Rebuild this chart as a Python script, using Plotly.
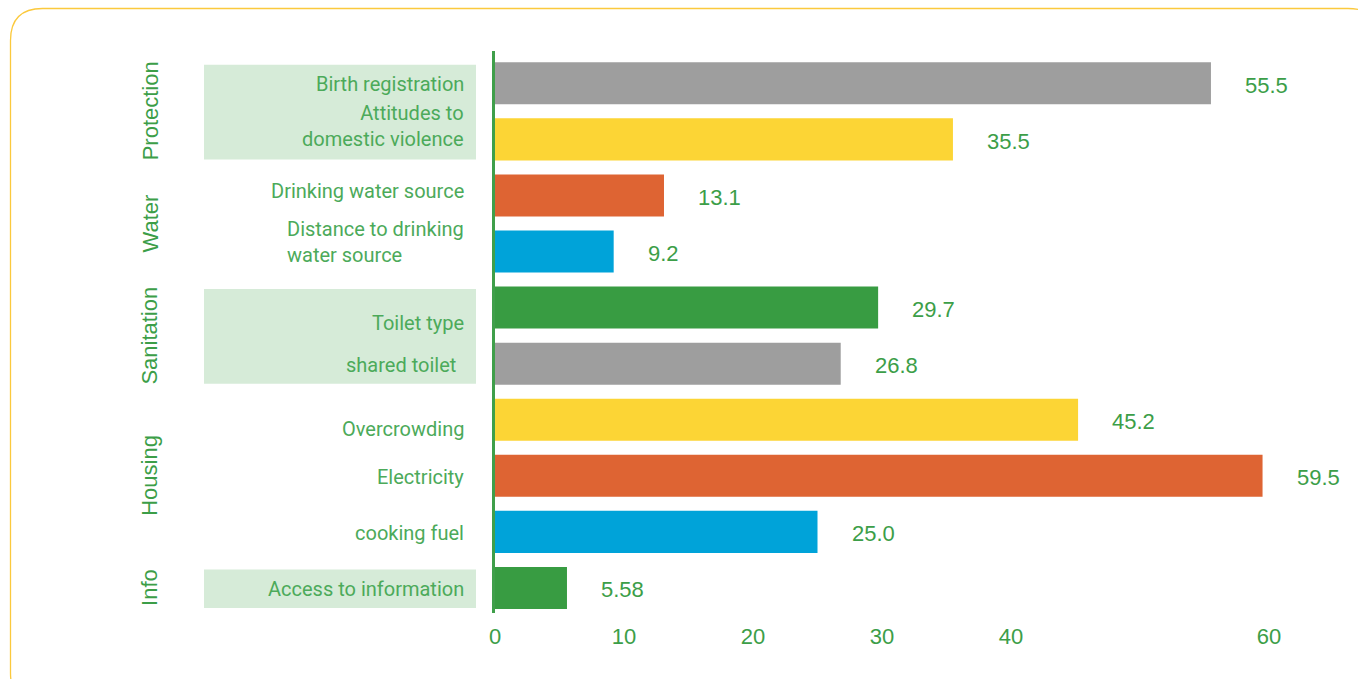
import plotly.graph_objects as go

# Indicator names, one per bar, top to bottom
indicators = [
    "Birth registration",
    "Attitudes to<br>domestic violence",
    "Drinking water source",
    "Distance to drinking<br>water source",
    "Toilet type",
    "shared toilet",
    "Overcrowding",
    "Electricity",
    "cooking fuel",
    "Access to information",
]

# Percentage values as printed next to each bar
value_text = ["55.5", "35.5", "13.1", "9.2", "29.7", "26.8", "45.2", "59.5", "25.0", "5.58"]
values = [float(t) for t in value_text]

# Dimension each indicator belongs to
groups = ["Protection", "Water", "Sanitation", "Housing", "Info"]
group_rows = [[0, 1], [2, 3], [4, 5], [6, 7, 8], [9]]
shaded_groups = ["Protection", "Sanitation", "Info"]

# X axis tick labels
tick_values = [0, 10, 20, 30, 40, 60]
tick_labels = ["0", "10", "20", "30", "40", "60"]

# Styling
GREY, YELLOW, ORANGE, BLUE, GREEN = "#9e9e9e", "#fcd535", "#de6433", "#00a3d9", "#389c42"
bar_colors = [GREY, YELLOW, ORANGE, BLUE, GREEN, GREY, YELLOW, ORANGE, BLUE, GREEN]
TEXT_GREEN = "#3c9e48"
LABEL_GREEN = "#4caa5a"
BOX_FILL = "#d6ebd8"
BORDER = "#fbc93d"

W, H = 1358, 679
L, R, T, B = 495, 1340, 51, 66
plot_w = W - L - (W - R)
plot_h = H - T - B
px_per_unit = 12.9
y_range = [9.447, -0.576]


def px_x(px):
    return (px - L) / plot_w


def px_y(py):
    return (H - B - py) / plot_h


rows = list(range(len(indicators)))

fig = go.Figure()
fig.add_trace(go.Bar(
    x=values,
    y=rows,
    orientation="h",
    marker=dict(color=bar_colors, line=dict(width=0)),
    width=0.75,
    hoverinfo="x+y",
))

annotations = []

# Value labels to the right of each bar
for r, (v, t) in enumerate(zip(values, value_text)):
    annotations.append(dict(
        x=v, y=r, xref="x", yref="y", text=t, showarrow=False,
        xanchor="left", yanchor="middle", xshift=32, yshift=-2,
        font=dict(family="Liberation Sans, Arial", size=22, color=TEXT_GREEN),
    ))

# Indicator labels on the left (vertical and horizontal nudges in pixels)
label_nudge_y = {1: -13, 3: -10, 4: 15, 6: 9, 2: -4}
label_nudge_x = {5: -8}
for r, name in enumerate(indicators):
    annotations.append(dict(
        x=px_x(466), y=r, xref="paper", yref="y", text=name, showarrow=False,
        xanchor="right", yanchor="middle", align="left" if r == 3 else "right",
        xshift=label_nudge_x.get(r, 0), yshift=-label_nudge_y.get(r, 1),
        font=dict(family="Roboto", size=20, color=LABEL_GREEN),
    ))

# Group titles, rotated
for g, rws in zip(groups, group_rows):
    annotations.append(dict(
        x=px_x(150), y=sum(rws) / len(rws), xref="paper", yref="y", text=g,
        showarrow=False, textangle=-90, xanchor="center", yanchor="middle",
        font=dict(family="Liberation Sans, Arial", size=22, color=TEXT_GREEN),
    ))

shapes = []
# Shaded panels behind selected group labels
for g, rws in zip(groups, group_rows):
    if g in shaded_groups:
        shapes.append(dict(
            type="rect", xref="paper", yref="y",
            x0=px_x(204), x1=px_x(476), y0=rws[0] - 0.33, y1=rws[-1] + 0.36,
            fillcolor=BOX_FILL, line=dict(width=0), layer="below",
        ))

# Rounded frame around the whole graphic
fx0, fy0, fx1, fy1, rad = 10.5, 8.5, 1380, 705, 32
path = (
    f"M {px_x(fx0)},{px_y(fy0 + rad)} "
    f"Q {px_x(fx0)},{px_y(fy0)} {px_x(fx0 + rad)},{px_y(fy0)} "
    f"L {px_x(fx1 - rad)},{px_y(fy0)} "
    f"Q {px_x(fx1)},{px_y(fy0)} {px_x(fx1)},{px_y(fy0 + rad)} "
    f"L {px_x(fx1)},{px_y(fy1 - rad)} "
    f"Q {px_x(fx1)},{px_y(fy1)} {px_x(fx1 - rad)},{px_y(fy1)} "
    f"L {px_x(fx0 + rad)},{px_y(fy1)} "
    f"Q {px_x(fx0)},{px_y(fy1)} {px_x(fx0)},{px_y(fy1 - rad)} Z"
)
shapes.append(dict(type="path", xref="paper", yref="paper", path=path,
                   line=dict(color=BORDER, width=1.3), layer="below"))

fig.update_layout(
    width=W, height=H,
    margin=dict(l=L, r=W - R, t=T, b=B, pad=0),
    paper_bgcolor="white", plot_bgcolor="white",
    showlegend=False,
    annotations=annotations,
    shapes=shapes,
    xaxis=dict(
        range=[0, plot_w / px_per_unit],
        tickvals=tick_values, ticktext=tick_labels,
        showgrid=False, zeroline=False, showline=False,
        ticks="", ticklabelstandoff=8,
        tickfont=dict(family="Liberation Sans, Arial", size=22, color=TEXT_GREEN),
        fixedrange=True,
    ),
    yaxis=dict(
        range=y_range, showticklabels=False, showgrid=False, zeroline=False,
        showline=True, linecolor="#3f9f4a", linewidth=2.5, ticks="",
        fixedrange=True,
    ),
    bargap=0.25,
)

fig.write_html("out.html", config={"displayModeBar": False})
